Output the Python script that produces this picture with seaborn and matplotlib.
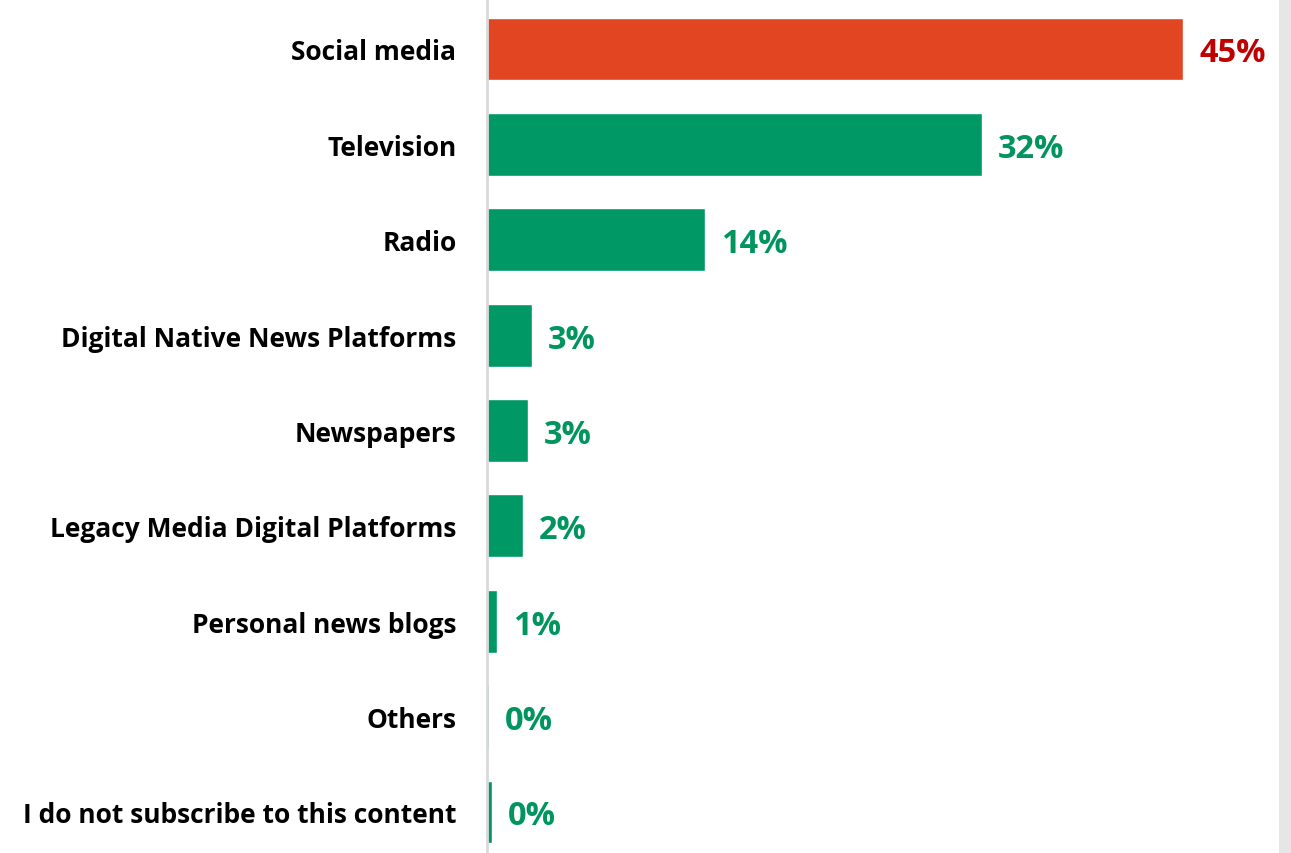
import matplotlib
matplotlib.use("Agg")
import matplotlib.pyplot as plt
import seaborn as sns
import pandas as pd

categories = [
    "Social media",
    "Television",
    "Radio",
    "Digital Native News Platforms",
    "Newspapers",
    "Legacy Media Digital Platforms",
    "Personal news blogs",
    "Others",
    "I do not subscribe to this content",
]
shares = [45.0, 32.0, 14.1, 2.9, 2.65, 2.3, 0.65, 0.1, 0.3]

bar_colors = ["#E24522"] + ["#009966"] * 8
text_colors = ["#C00000"] + ["#00955E"] * 8

df = pd.DataFrame({"source": categories, "share": shares})

sns.set_theme(style="white")
plt.rcParams["font.family"] = ["Open Sans", "DejaVu Sans"]

fig = plt.figure(figsize=(12.91, 8.54), dpi=100)
ax = fig.add_axes([487 / 1291, 0, (1279 - 487) / 1291, 1])

sns.barplot(data=df, x="share", y="source", hue="source", palette=bar_colors,
            legend=False, width=0.66, ax=ax, saturation=1)

ax.set_xlim(0, 51.2)
ax.set_ylim(8.43, -0.524)
ax.set_xlabel("")
ax.set_ylabel("")
ax.set_xticks([])

for i, (v, c) in enumerate(zip(shares, text_colors)):
    ax.annotate(f"{v:.0f}%", xy=(v, i), xytext=(16, -4), textcoords="offset pixels",
                ha="left", va="center", fontsize=23.5, fontweight="bold", color=c)

ax.tick_params(axis="y", length=0, pad=22, labelsize=19)
for lab in ax.get_yticklabels():
    lab.set_fontweight("bold")
    lab.set_color("black")

for side in ["top", "right", "bottom"]:
    ax.spines[side].set_visible(False)
ax.spines["left"].set_color("#D9D9D9")
ax.spines["left"].set_linewidth(2)

# light gray strip along the right edge
fig.patches.append(plt.Rectangle((1279 / 1291, 0), 12 / 1291, 1, transform=fig.transFigure,
                                 facecolor="#E6E6E6", edgecolor="none"))

fig.savefig("out.png", dpi=100)
